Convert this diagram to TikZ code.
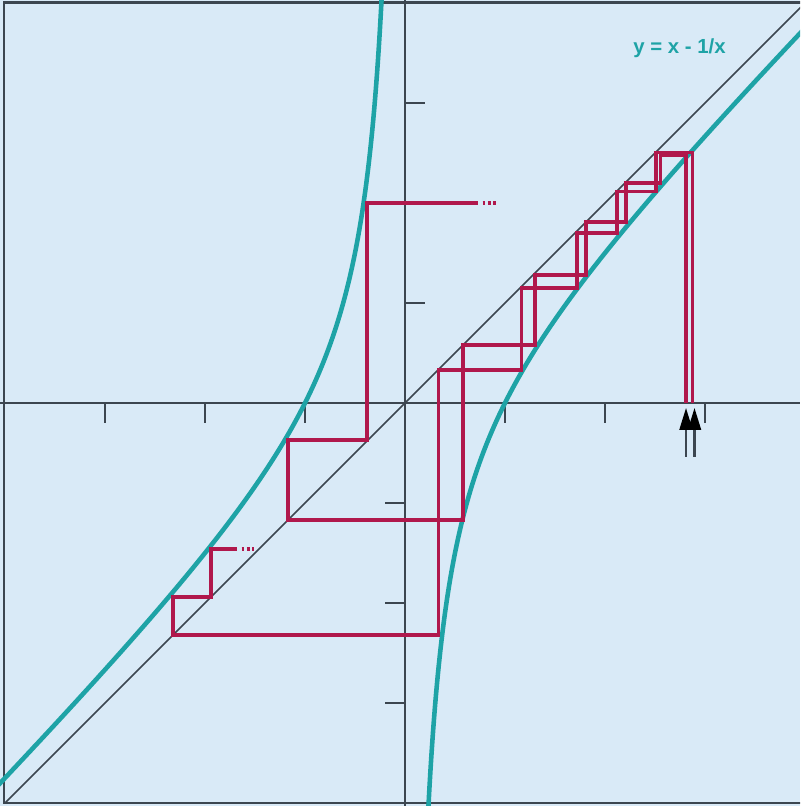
\documentclass[tikz,border=0pt]{standalone}
\usepackage{fontspec}
\setmainfont{Liberation Sans}
\usetikzlibrary{arrows.meta}
\definecolor{bgblue}{RGB}{217,234,247}
\definecolor{tealc}{RGB}{30,163,166}
\definecolor{webc}{RGB}{176,24,76}
\definecolor{axisgray}{RGB}{60,70,80}
\tikzset{
  axisline/.style={draw=axisgray, line width=0.6pt},
  tickmark/.style={draw=axisgray, line width=0.6pt},
  diagline/.style={draw=axisgray, line width=0.5pt},
  fcurve/.style={draw=tealc, line width=1.3pt},
  webline/.style={draw=webc, line width=1.05pt},
  webdots/.style={draw=webc, line width=1.05pt, dash pattern=on 0.85pt off 0.65pt},
  arrowline/.style={draw=axisgray, line width=0.6pt, -{Triangle[length=2.2mm,width=1.3mm,black]}},
  eqlabel/.style={text=tealc, font=\fontsize{5.8}{6}\selectfont\bfseries}
}
\begin{document}
\begin{tikzpicture}[x=1cm,y=1cm]
\path[use as bounding box, fill=bgblue] (-4.05,-4.03) rectangle (3.95,4.03);
\begin{scope}
\clip (-4.05,-4.03) rectangle (3.95,4.03);
% frame
\draw[draw=axisgray, line width=0.6pt] (-4.01,-4.00) rectangle (3.97,4.005);
% axes
\coordinate (xl) at (-4.05,0); \coordinate (xr) at (3.95,0);
\coordinate (yb) at (0,-4.03); \coordinate (yt) at (0,4.03);
\draw[axisline] (xl) -- (xr);
\draw[axisline] (yb) -- (yt);
% ticks
\foreach \t in {-3,-2,-1,1,2,3} \draw[tickmark] (\t,0) -- (\t,-0.2);
\foreach \t in {1,2,3} \draw[tickmark] (0,\t) -- (0.2,\t);
\foreach \t in {-1,-2,-3} \draw[tickmark] (0,\t) -- (-0.2,\t);
% diagonal y = x
\coordinate (d1) at (-4,-4); \coordinate (d2) at (4,4);
\draw[diagline] (d1) -- (d2);
% y = x - 1/x
\draw[fcurve] plot[domain=-4.08:-0.232, samples=400] (\x, {\x-1/\x});
\draw[fcurve] plot[domain=0.234:3.98, samples=400] (\x, {\x-1/\x});
% cobweb A
\draw[webline] (2.81,0) -- (2.81,2.48) -- (2.555,2.48) -- (2.555,2.20) -- (2.21,2.20)
  -- (2.21,1.81) -- (1.81,1.81) -- (1.81,1.28) -- (1.30,1.28) -- (1.30,0.58)
  -- (0.58,0.58) -- (0.58,-1.17) -- (-1.17,-1.17) -- (-1.17,-0.37) -- (-0.38,-0.37)
  -- (-0.38,2.0) -- (0.73,2.0);
\draw[webdots] (0.775,2.0) -- (0.905,2.0);
% cobweb B
\draw[webline] (2.875,0) -- (2.875,2.505) -- (2.51,2.505) -- (2.51,2.115) -- (2.12,2.115)
  -- (2.12,1.70) -- (1.72,1.70) -- (1.72,1.15) -- (1.165,1.15) -- (1.165,0.33)
  -- (0.335,0.33) -- (0.335,-2.32) -- (-2.32,-2.32) -- (-2.32,-1.94) -- (-1.94,-1.94)
  -- (-1.94,-1.46) -- (-1.68,-1.46);
\draw[webdots] (-1.635,-1.46) -- (-1.505,-1.46);
% start arrows
\coordinate (a1s) at (2.81,-0.54); \coordinate (a1t) at (2.81,-0.05);
\coordinate (a2s) at (2.895,-0.54); \coordinate (a2t) at (2.895,-0.05);
\draw[arrowline] (a1s) -- (a1t);
\draw[arrowline] (a2s) -- (a2t);
\end{scope}
\node[eqlabel] (label) at (2.745,3.55) {y = x - 1/x};
\end{tikzpicture}
\end{document}
